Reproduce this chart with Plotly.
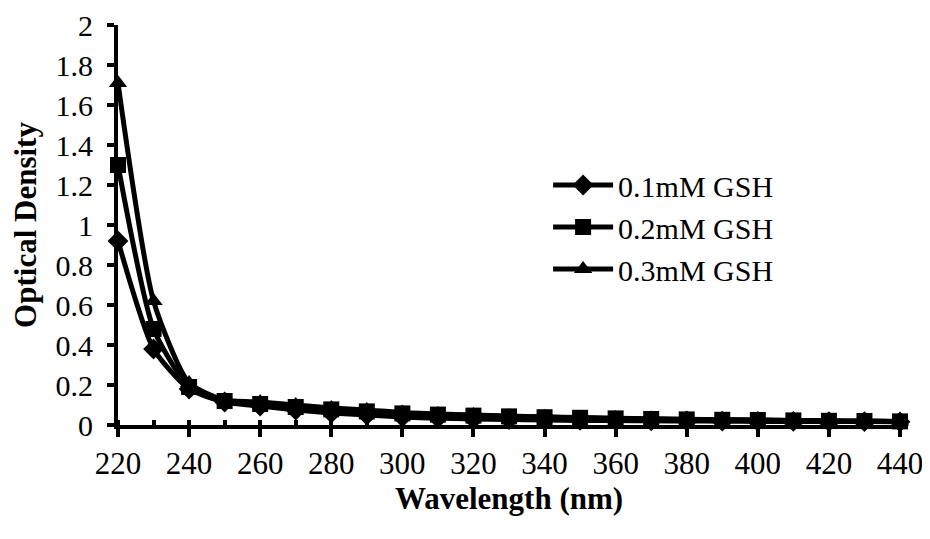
import plotly.graph_objects as go

wavelength = [220, 230, 240, 250, 260, 270, 280, 290, 300, 310, 320, 330, 340,
              350, 360, 370, 380, 390, 400, 410, 420, 430, 440]
od_01 = [0.92, 0.38, 0.18, 0.115, 0.095, 0.075, 0.06, 0.05, 0.04, 0.034, 0.03, 0.027, 0.025,
         0.023, 0.022, 0.021, 0.02, 0.019, 0.018, 0.018, 0.017, 0.017, 0.016]
od_02 = [1.30, 0.48, 0.19, 0.12, 0.105, 0.09, 0.078, 0.068, 0.058, 0.052, 0.047, 0.043, 0.039,
         0.036, 0.033, 0.03, 0.028, 0.026, 0.025, 0.023, 0.021, 0.02, 0.018]
od_03 = [1.71, 0.62, 0.21, 0.125, 0.115, 0.1, 0.085, 0.075, 0.062, 0.055, 0.05, 0.045, 0.041,
         0.037, 0.034, 0.031, 0.029, 0.027, 0.025, 0.023, 0.021, 0.02, 0.018]
series_names = ["0.1mM GSH", "0.2mM GSH", "0.3mM GSH"]
symbols = ["diamond", "square", "triangle-up"]
y_ticks = [0, 0.2, 0.4, 0.6, 0.8, 1, 1.2, 1.4, 1.6, 1.8, 2]
y_tick_text = ["0", "0.2", "0.4", "0.6", "0.8", "1", "1.2", "1.4", "1.6", "1.8", "2"]

font = "Liberation Serif, Times New Roman, serif"
fig = go.Figure()
for name, ys, sym in zip(series_names, [od_01, od_02, od_03], symbols):
    fig.add_trace(go.Scatter(
        x=wavelength, y=ys, name=name, mode="lines+markers",
        line=dict(color="black", width=5, shape="spline", smoothing=0.6),
        marker=dict(symbol=sym, size=16, color="black"),
        cliponaxis=False,
    ))

fig.update_layout(
    width=922, height=531,
    margin=dict(l=110, r=30, t=17, b=114, autoexpand=False),
    paper_bgcolor="white", plot_bgcolor="white",
    font=dict(family=font, size=31, color="black"),
    showlegend=True,
    legend=dict(x=0.55, y=0.665, xanchor="left", yanchor="top",
                font=dict(family=font, size=30, color="black"),
                bgcolor="rgba(0,0,0,0)", tracegroupgap=0, itemwidth=60),
    xaxis=dict(
        range=[220, 440], tickmode="linear", tick0=220, dtick=20,
        showline=True, linecolor="black", linewidth=4,
        ticks="outside", ticklen=8, tickwidth=4, tickcolor="black",
        minor=dict(dtick=10, ticks="inside", ticklen=5, tickwidth=4, tickcolor="black"),
        showgrid=False, zeroline=False, ticklabeloverflow="allow", automargin=False,
        tickfont=dict(family=font, size=31),
        title=dict(text="<b>Wavelength (nm)</b>", standoff=6,
                   font=dict(family=font, size=31)),
    ),
    yaxis=dict(
        range=[0, 2], tickvals=y_ticks, ticktext=y_tick_text,
        showline=True, linecolor="black", linewidth=4,
        ticks="outside", ticklen=7, tickwidth=4, tickcolor="black",
        showgrid=False, zeroline=False, ticklabeloverflow="allow", automargin=False,
        ticklabelstandoff=8,
        tickfont=dict(family=font, size=30),
        title=dict(text="<b>Optical Density</b>", standoff=16,
                   font=dict(family=font, size=31)),
    ),
)

fig.write_html("out.html")
